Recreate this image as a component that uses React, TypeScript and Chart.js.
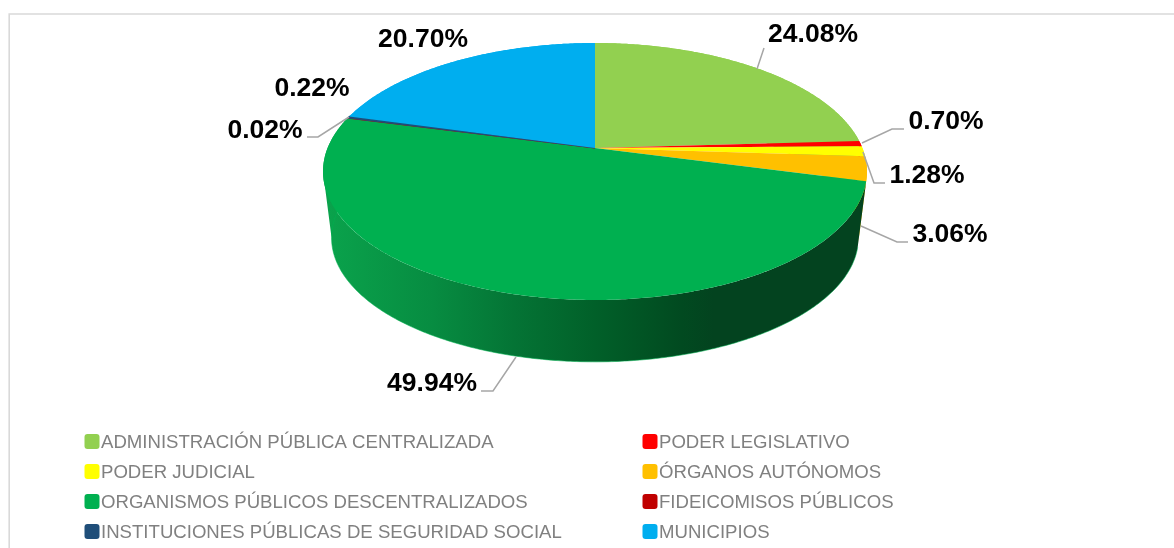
import React, { useEffect, useRef } from "react";
import { Chart, registerables } from "chart.js";

Chart.register(...registerables);

const categories = [
  "ADMINISTRACIÓN PÚBLICA CENTRALIZADA",
  "PODER LEGISLATIVO",
  "PODER JUDICIAL",
  "ÓRGANOS AUTÓNOMOS",
  "ORGANISMOS PÚBLICOS DESCENTRALIZADOS",
  "FIDEICOMISOS PÚBLICOS",
  "INSTITUCIONES PÚBLICAS DE SEGURIDAD SOCIAL",
  "MUNICIPIOS",
];
const shares = [24.08, 0.7, 1.28, 3.06, 49.94, 0.02, 0.22, 20.7];
const colors = ["#92d050", "#ff0000", "#ffff00", "#ffc000", "#00b050", "#c00000", "#1f4e79", "#00aeef"];

// Where each percentage label sits (centre x, centre y) and its leader line.
const labelCentres = [
  [813, 35], [946, 122], [927, 176], [950, 235], [432, 384], [265, 131], [312, 89], [423, 40],
];
const leaders: number[][][] = [
  [[757, 69], [764, 48]],
  [[862, 143], [892, 129], [904, 129]],
  [[863, 152], [874, 183], [885, 183]],
  [[861, 226], [897, 242], [908, 242]],
  [[516, 357], [493, 391], [481, 391]],
  [[349, 117], [318, 137], [307, 137]],
  [],
  [],
];

// Perspective projection of the pie's top face and of its lower rim.
const CX = 595;
const K = -0.1829;
const TOP = { y: 148, a: 267.4, b: 124.2 };
const BASE = { y: 215, a: 259, b: 120 };
// The wall folds over where the rim turns back: sin(angle) = -K
const FOLD = Math.asin(-K);

const project = (rim: { y: number; a: number; b: number }, angle: number) => {
  const u = Math.cos(angle);
  const v = Math.sin(angle);
  const d = 1 + K * v;
  return [CX + (rim.a * u) / d, rim.y + (rim.b * v) / d];
};

const arcPoints = (rim: { y: number; a: number; b: number }, start: number, end: number) => {
  const n = Math.max(2, Math.ceil((end - start) / 0.01));
  const pts: number[][] = [];
  for (let i = 0; i <= n; i++) pts.push(project(rim, start + ((end - start) * i) / n));
  return pts;
};

const trace = (ctx: CanvasRenderingContext2D, pts: number[][], moveFirst = true) => {
  pts.forEach((p, i) => {
    if (i === 0 && moveFirst) ctx.moveTo(p[0], p[1]);
    else ctx.lineTo(p[0], p[1]);
  });
};

const signedArea = (pts: number[][]) => {
  let s = 0;
  pts.forEach((p, i) => {
    const q = pts[(i + 1) % pts.length];
    s += p[0] * q[1] - q[0] * p[1];
  });
  return s;
};

// Splits the angle range at the fold lines so that each piece of wall is a simple outline.
const wallPieces = (start: number, end: number) => {
  const norm = (a: number) => {
    let x = a;
    while (x < start) x += Math.PI * 2;
    return x;
  };
  const cuts = [norm(FOLD), norm(Math.PI - FOLD)].filter((c) => c > start && c < end).sort((a, b) => a - b);
  const stops = [start, ...cuts, end];
  const pieces: number[][][] = [];
  for (let i = 0; i < stops.length - 1; i++) {
    const ring = [
      ...arcPoints(TOP, stops[i], stops[i + 1]),
      ...arcPoints(BASE, stops[i], stops[i + 1]).reverse(),
    ];
    pieces.push(signedArea(ring) < 0 ? ring.reverse() : ring);
  }
  return pieces;
};

const pie3d = {
  id: "pie3d",
  beforeDatasetsDraw(chart: any) {
    const ctx: CanvasRenderingContext2D = chart.ctx;
    const arcs = chart.getDatasetMeta(0).data;
    ctx.save();

    // Wall of the pie
    const wall = ctx.createLinearGradient(325, 0, 865, 0);
    wall.addColorStop(0, "#0aa34c");
    wall.addColorStop(0.2, "#078c41");
    wall.addColorStop(0.35, "#047435");
    wall.addColorStop(0.5, "#016029");
    wall.addColorStop(0.66, "#014a20");
    wall.addColorStop(0.72, "#03431f");
    wall.addColorStop(1, "#03431f");
    arcs.forEach((arc: any, i: number) => {
      const { startAngle, endAngle } = arc;
      ctx.beginPath();
      wallPieces(startAngle, endAngle).forEach((ring) => {
        trace(ctx, ring);
        ctx.closePath();
      });
      ctx.fillStyle = i === 4 ? wall : colors[i];
      ctx.fill();
      if (i === 4) {
        ctx.beginPath();
        trace(ctx, arcPoints(BASE, startAngle, endAngle));
        ctx.strokeStyle = "rgba(0,176,80,0.55)";
        ctx.lineWidth = 1;
        ctx.stroke();
      }
    });

    // Top face
    arcs.forEach((arc: any, i: number) => {
      const { startAngle, endAngle } = arc;
      ctx.beginPath();
      ctx.moveTo(CX, TOP.y);
      trace(ctx, arcPoints(TOP, startAngle, endAngle), false);
      ctx.closePath();
      ctx.fillStyle = colors[i];
      ctx.fill();
      if (endAngle - startAngle < 0.03) {
        ctx.strokeStyle = colors[i];
        ctx.lineWidth = 1.1;
        ctx.stroke();
      }
    });
    ctx.restore();
    return false;
  },
  afterDraw(chart: any) {
    const ctx: CanvasRenderingContext2D = chart.ctx;
    ctx.save();

    // Chart frame
    ctx.strokeStyle = "#d9d9d9";
    ctx.lineWidth = 1.6;
    ctx.beginPath();
    ctx.moveTo(9.2, 548);
    ctx.lineTo(9.2, 14);
    ctx.lineTo(1174, 14);
    ctx.stroke();

    // Leader lines
    ctx.strokeStyle = "#a6a6a6";
    ctx.lineWidth = 1.5;
    leaders.forEach((line) => {
      if (!line.length) return;
      ctx.beginPath();
      trace(ctx, line);
      ctx.stroke();
    });

    // Percentage labels
    ctx.fillStyle = "#000000";
    ctx.font = "bold 26.5px 'Liberation Sans', Arial, sans-serif";
    ctx.textAlign = "center";
    ctx.textBaseline = "middle";
    shares.forEach((value, i) => {
      ctx.fillText(value.toFixed(2) + "%", labelCentres[i][0], labelCentres[i][1]);
    });

    // Legend, two columns
    ctx.font = "18.6px 'Liberation Sans', Arial, sans-serif";
    ctx.textAlign = "left";
    categories.forEach((name, i) => {
      const col = i % 2;
      const row = Math.floor(i / 2);
      const y = 441.5 + row * 30;
      const x = col === 0 ? 84.5 : 642.5;
      ctx.fillStyle = colors[i];
      ctx.beginPath();
      ctx.roundRect(x, y - 7.5, 15, 15, 3);
      ctx.fill();
      ctx.fillStyle = "#808080";
      ctx.fillText(name, x + 16.5, y + 1.5);
    });
    ctx.restore();
  },
};

export default function App() {
  const ref = useRef<HTMLCanvasElement>(null);
  useEffect(() => {
    document.body.style.margin = "0";
    const chart = new Chart(ref.current!, {
      type: "pie",
      data: {
        labels: categories,
        datasets: [{ data: shares, backgroundColor: colors, borderWidth: 0 }],
      },
      options: {
        animation: false,
        responsive: false,
        plugins: { legend: { display: false }, tooltip: { enabled: false } },
      },
      plugins: [pie3d],
    } as any);
    return () => chart.destroy();
  }, []);
  return (
    <canvas
      ref={ref}
      width={1174}
      height={548}
      style={{ display: "block", width: 1174, height: 548, background: "#ffffff" }}
    />
  );
}
